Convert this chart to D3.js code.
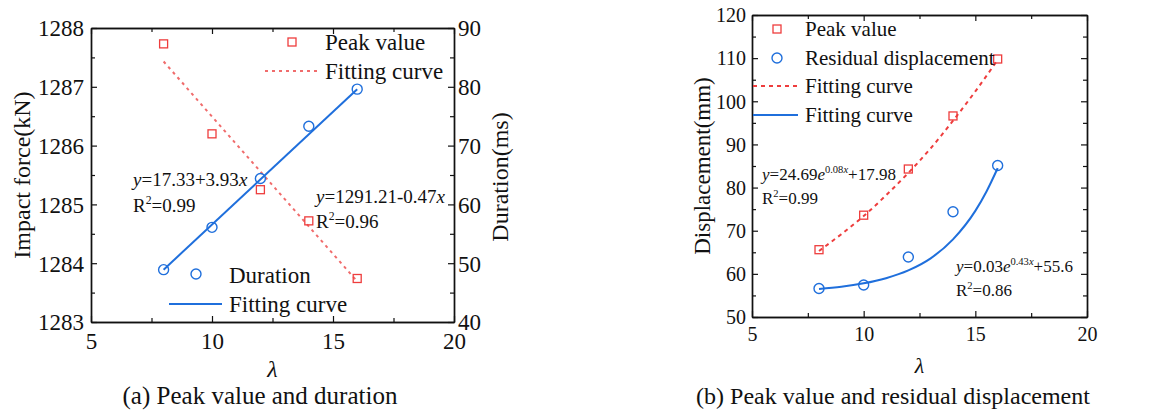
<!DOCTYPE html>
<html>
<head>
<meta charset="utf-8">
<script src="https://cdn.jsdelivr.net/npm/d3@7"></script>
<style>
  body { margin: 0; background: #fff; }
  svg text { font-family: "Liberation Serif", serif; }
</style>
</head>
<body>
<svg id="chart" width="1162" height="412"></svg>
<script>
// ---- data ----
const lambdaVals = [8, 10, 12, 14, 16];

// (a) peak impact force (kN, left axis) and duration (ms, right axis)
const peakForce = [1287.73, 1286.20, 1285.25, 1284.72, 1283.74];
const duration  = [48.9, 56.1, 64.4, 73.3, 79.6];
const peakForceFitX = [8, 16];
const peakForceFitY = [1287.43, 1283.69];
const durationFitX  = [8, 16];
const durationFitY  = [48.9, 79.6];

// (b) peak displacement and residual displacement (mm)
const peakDisp     = [65.6, 73.6, 84.3, 96.6, 109.8];
const residualDisp = [56.6, 57.4, 63.9, 74.4, 85.1];
const peakDispFitX = [8, 9, 10, 11, 12, 13, 14, 15, 16];
const peakDispFitY = [65.3, 69.2, 73.4, 78.2, 83.4, 89.1, 95.5, 102.3, 109.6];
const residualFitX = [8, 9, 10, 11, 12, 13, 14, 15, 15.5, 16];
const residualFitY = [56.5, 57.0, 57.8, 59.0, 60.8, 63.6, 68.0, 74.6, 79.1, 84.5];

// ticks
const xTicks = [5, 10, 15, 20];
const xMinor = [7.5, 12.5, 17.5];
const forceTicks = [1283, 1284, 1285, 1286, 1287, 1288];
const forceMinor = [1283.5, 1284.5, 1285.5, 1286.5, 1287.5];
const durTicks = [40, 50, 60, 70, 80, 90];
const durMinor = [45, 55, 65, 75, 85];
const dispTicks = [50, 60, 70, 80, 90, 100, 110, 120];
const dispMinor = [55, 65, 75, 85, 95, 105, 115];

const RED = "#ee3d3d", RED_LIGHT = "#f06c6c", BLUE = "#1f6fdc";
const FONT = '"Liberation Serif", serif';

const svg = d3.select("#chart").attr("font-family", FONT);

// --- helpers ---
function styleAxis(sel) {
  sel.attr("font-family", FONT).attr("font-size", null);
  sel.select(".domain").attr("stroke", "#111").attr("stroke-width", 1.4);
  sel.selectAll(".tick line").attr("stroke", "#111").attr("stroke-width", 1.2);
  sel.selectAll(".tick text").attr("fill", "#111");
}

function addAxis(g, axisFn, scale, major, minor, pos, fs, pad, labels) {
  const tr = pos.x != null ? `translate(${pos.x},0)` : `translate(0,${pos.y})`;
  const a = g.append("g").attr("transform", tr)
    .call(axisFn(scale).tickValues(major).tickSizeInner(-6).tickSizeOuter(0)
      .tickPadding(pad).tickFormat(labels ? d3.format("d") : () => ""))
    .call(styleAxis);
  a.selectAll(".tick text").attr("font-size", fs)
    .attr("dy", pos.x != null ? (0.34 * fs).toFixed(1) : (0.72 * fs).toFixed(1));
  g.append("g").attr("transform", tr)
    .call(axisFn(scale).tickValues(minor).tickSizeInner(-4).tickSizeOuter(0).tickFormat(() => ""))
    .call(styleAxis);
}

function label(g, x, y, s, fs, opts = {}) {
  const t = g.append("text").attr("font-size", fs).attr("fill", "#111").text(s);
  const yy = opts.mid ? y + 0.34 * fs : y;
  if (opts.rotate) t.attr("transform", `translate(${x},${y}) rotate(-90)`).attr("dy", opts.mid ? 0.34 * fs : 0);
  else t.attr("x", x).attr("y", yy);
  if (opts.anchor) t.attr("text-anchor", opts.anchor);
  if (opts.italic) t.attr("font-style", "italic");
  return t;
}

function squares(g, xs, ys, x, y, color, s) {
  g.selectAll(null).data(xs.map((d, i) => [d, ys[i]])).join("rect")
    .attr("x", d => x(d[0]) - s / 2).attr("y", d => y(d[1]) - s / 2)
    .attr("width", s).attr("height", s)
    .attr("fill", "none").attr("stroke", color).attr("stroke-width", 1.3);
}

function circles(g, xs, ys, x, y, color, r) {
  g.selectAll(null).data(xs.map((d, i) => [d, ys[i]])).join("circle")
    .attr("cx", d => x(d[0])).attr("cy", d => y(d[1])).attr("r", r)
    .attr("fill", "none").attr("stroke", color).attr("stroke-width", 1.4);
}

function fitLine(g, xs, ys, x, y, color, dash, w, curve) {
  const line = d3.line().x(d => x(d[0])).y(d => y(d[1])).curve(curve || d3.curveLinear);
  g.append("path").datum(xs.map((d, i) => [d, ys[i]]))
    .attr("d", line).attr("fill", "none").attr("stroke", color)
    .attr("stroke-width", w).attr("stroke-dasharray", dash);
}

// text with italic and superscript pieces: [text, italic?, sup?]
function richText(g, x, y, parts, fs) {
  const t = g.append("text").attr("x", x).attr("y", y)
    .attr("font-size", fs).attr("fill", "#111");
  let up = false;
  parts.forEach(([s, it, sup]) => {
    const ts = t.append("tspan").text(s);
    if (it) ts.attr("font-style", "italic");
    if (sup && !up) { ts.attr("dy", -0.42 * fs); up = true; }
    else if (!sup && up) { ts.attr("dy", 0.42 * fs); up = false; }
    if (sup) ts.attr("font-size", fs * 0.62);
  });
  return t;
}

// =================== (a) ===================
{
  const L = 91, R = 454, T = 28, B = 322;
  const x = d3.scaleLinear().domain([5, 20]).range([L, R]);
  const yF = d3.scaleLinear().domain([1283, 1288]).range([B, T]);
  const yD = d3.scaleLinear().domain([40, 90]).range([B, T]);
  const g = svg.append("g");
  const fs = 23;

  addAxis(g, d3.axisLeft, yF, forceTicks, forceMinor, { x: L }, fs, 7, true);
  addAxis(g, d3.axisRight, yD, durTicks, durMinor, { x: R }, fs, 4, true);
  addAxis(g, d3.axisBottom, x, xTicks, xMinor, { y: B }, fs, 10, true);
  addAxis(g, d3.axisTop, x, xTicks, xMinor, { y: T }, fs, 4, false);

  label(g, 22, (T + B) / 2, "Impact force(kN)", 24, { rotate: true, anchor: "middle", mid: true });
  label(g, 500, (T + B) / 2 + 2, "Duration(ms)", 24, { rotate: true, anchor: "middle", mid: true });
  label(g, (L + R) / 2, 377, "λ", 24, { anchor: "middle", italic: true });
  label(g, 260, 404, "(a) Peak value and duration", 25, { anchor: "middle" });

  fitLine(g, peakForceFitX, peakForceFitY, x, yF, RED_LIGHT, "3,4", 2);
  fitLine(g, durationFitX, durationFitY, x, yD, BLUE, null, 2);
  squares(g, lambdaVals, peakForce, x, yF, RED, 8);
  circles(g, lambdaVals, duration, x, yD, BLUE, 5);

  // legends
  g.append("rect").attr("x", 288).attr("y", 38).attr("width", 8).attr("height", 8)
    .attr("fill", "none").attr("stroke", RED).attr("stroke-width", 1.3);
  label(g, 325, 42, "Peak value", fs, { mid: true });
  g.append("line").attr("x1", 265).attr("x2", 317).attr("y1", 71).attr("y2", 71)
    .attr("stroke", RED_LIGHT).attr("stroke-width", 2).attr("stroke-dasharray", "3,4");
  label(g, 325, 71, "Fitting curve", fs, { mid: true });

  g.append("circle").attr("cx", 196).attr("cy", 274).attr("r", 5)
    .attr("fill", "none").attr("stroke", BLUE).attr("stroke-width", 1.4);
  label(g, 229, 275, "Duration", fs, { mid: true });
  g.append("line").attr("x1", 169).attr("x2", 222).attr("y1", 304).attr("y2", 304)
    .attr("stroke", BLUE).attr("stroke-width", 2);
  label(g, 229, 304, "Fitting curve", fs, { mid: true });

  // equations
  richText(g, 133, 186, [["y", true], ["=17.33+3.93"], ["x", true]], 19);
  richText(g, 133, 212, [["R"], ["2", false, true], ["=0.99"]], 19);
  richText(g, 316, 203, [["y", true], ["=1291.21-0.47"], ["x", true]], 19);
  richText(g, 316, 228, [["R"], ["2", false, true], ["=0.96"]], 19);
}

// =================== (b) ===================
{
  const L = 752, R = 1087, T = 15, B = 317;
  const x = d3.scaleLinear().domain([5, 20]).range([L, R]);
  const y = d3.scaleLinear().domain([50, 120]).range([B, T]);
  const g = svg.append("g");
  const fs = 20;

  addAxis(g, d3.axisLeft, y, dispTicks, dispMinor, { x: L }, fs, 6, true);
  addAxis(g, d3.axisRight, y, dispTicks, dispMinor, { x: R }, fs, 4, false);
  addAxis(g, d3.axisBottom, x, xTicks, xMinor, { y: B }, fs, 10, true);
  addAxis(g, d3.axisTop, x, xTicks, xMinor, { y: T }, fs, 4, false);

  label(g, 702, (T + B) / 2, "Displacement(mm)", 23, { rotate: true, anchor: "middle", mid: true });
  label(g, (L + R) / 2, 373, "λ", 22, { anchor: "middle", italic: true });
  label(g, 893, 404, "(b) Peak value and residual displacement", 24, { anchor: "middle" });

  fitLine(g, peakDispFitX, peakDispFitY, x, y, RED, "4,4", 2, d3.curveMonotoneX);
  fitLine(g, residualFitX, residualFitY, x, y, BLUE, null, 2, d3.curveMonotoneX);
  squares(g, lambdaVals, peakDisp, x, y, RED, 8);
  circles(g, lambdaVals, residualDisp, x, y, BLUE, 5);

  // legend
  const lfs = 21;
  g.append("rect").attr("x", 773).attr("y", 25).attr("width", 8).attr("height", 8)
    .attr("fill", "none").attr("stroke", RED).attr("stroke-width", 1.3);
  label(g, 805, 29, "Peak value", lfs, { mid: true });
  g.append("circle").attr("cx", 777).attr("cy", 58).attr("r", 5)
    .attr("fill", "none").attr("stroke", BLUE).attr("stroke-width", 1.4);
  label(g, 805, 58, "Residual displacement", lfs, { mid: true });
  g.append("line").attr("x1", 753).attr("x2", 798).attr("y1", 86).attr("y2", 86)
    .attr("stroke", RED).attr("stroke-width", 2).attr("stroke-dasharray", "4,4");
  label(g, 805, 86, "Fitting curve", lfs, { mid: true });
  g.append("line").attr("x1", 753).attr("x2", 798).attr("y1", 115).attr("y2", 115)
    .attr("stroke", BLUE).attr("stroke-width", 2);
  label(g, 805, 115, "Fitting curve", lfs, { mid: true });

  // equations
  richText(g, 762, 180, [["y", true], ["=24.69"], ["e", true], ["0.08", false, true], ["x", true, true], ["+17.98"]], 17);
  richText(g, 762, 204, [["R"], ["2", false, true], ["=0.99"]], 17);
  richText(g, 956, 272, [["y", true], ["=0.03"], ["e", true], ["0.43", false, true], ["x", true, true], ["+55.6"]], 17);
  richText(g, 956, 296, [["R"], ["2", false, true], ["=0.86"]], 17);
}
</script>
</body>
</html>
